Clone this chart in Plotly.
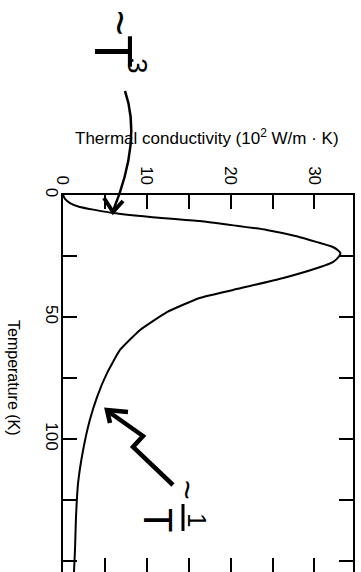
import plotly.graph_objects as go

# Data: temperature (K) vs thermal conductivity (10^2 W/m.K)
temperature = [0, 1.6, 3.3, 4.9, 6.1, 7.4, 9.0, 10.7, 14.3, 17.0, 19.3, 21.3, 22.6, 23.8, 25.3,
               27.5, 29.5, 34.0, 38.9, 42.2, 48.0, 55.3, 63.5, 73.0, 82.8, 92.2, 104.5,
               118.0, 132.0, 145.5, 154.5]
conductivity = [0, 0.24, 0.84, 2.0, 3.8, 6.0, 10.4, 16.3, 24.3, 28.0, 30.3, 32.2, 32.8, 33.1, 32.9,
                32.2, 30.7, 26.3, 20.3, 16.3, 12.4, 9.2, 6.8, 5.25, 4.06, 3.2, 2.4,
                1.8, 1.55, 1.43, 1.31]

k_tickvals = [0, 10, 20, 30]
k_ticktext = ["0", "10", "20", "30"]
t_tickvals = [0, 50, 100, 150]
t_ticktext = ["0", "50", "100", "150"]
k_minor_step = 5
t_minor_step = 25

W, H = 361, 572
L, R, TOP, B = 63, 353, 195, 572
FONT = "Liberation Sans, Arial, sans-serif"


def px(x):
    return (x - L) / (R - L)


def py(y):
    return (B - y) / (B - TOP)


fig = go.Figure()
fig.add_trace(go.Scatter(x=conductivity, y=temperature, mode="lines",
                         line=dict(color="black", width=2, shape="spline", smoothing=0.4),
                         showlegend=False, hoverinfo="skip"))
fig.add_trace(go.Scatter(x=[None], y=[None], xaxis="x2", showlegend=False, hoverinfo="skip"))

tick_style = dict(ticks="inside", ticklen=14, tickwidth=1.5, tickcolor="black")
axis_common = dict(showgrid=False, zeroline=False, automargin=False,
                   tickfont=dict(family=FONT, size=17, color="black"), **tick_style)

fig.update_layout(
    template="none",
    width=W, height=H,
    margin=dict(l=L, r=W - R, t=TOP, b=H - B, pad=0, autoexpand=False),
    paper_bgcolor="white", plot_bgcolor="white",
    xaxis=dict(range=[0, 34.6], side="top", tickvals=k_tickvals, ticktext=k_ticktext,
               tickangle=90, showline=True, linecolor="black", linewidth=2,
               mirror=False, ticklabelstandoff=2,
               minor=dict(dtick=k_minor_step, showgrid=False, **tick_style), **axis_common),
    xaxis2=dict(range=[0, 34.6], side="bottom", overlaying="x", anchor="y",
                tickvals=k_tickvals, showticklabels=False, showline=False,
                minor=dict(dtick=k_minor_step, showgrid=False, **tick_style), **axis_common),
    yaxis=dict(range=[154.5, 0], tickvals=t_tickvals, ticktext=t_ticktext,
               tickangle=90, showline=True, linecolor="black", linewidth=2,
               mirror="ticks", ticklabelstandoff=-5,
               minor=dict(dtick=t_minor_step, showgrid=False, **tick_style), **axis_common),
)

ann = []
ann.append(dict(text="Thermal conductivity (10<sup>2</sup> W/m · K)", x=px(207), y=py(137),
                xref="paper", yref="paper", showarrow=False, xanchor="center", yanchor="middle",
                font=dict(family=FONT, size=17, color="black")))
ann.append(dict(text="Temperature (K)", x=px(14), y=py(378), xref="paper", yref="paper",
                showarrow=False, textangle=90, xanchor="center", yanchor="middle",
                font=dict(family=FONT, size=16, color="black")))

hand = dict(family=FONT, color="black")


def note(text, x, y, size):
    return dict(text=text, x=px(x), y=py(y), xref="paper", yref="paper", showarrow=False,
                textangle=90, xanchor="center", yanchor="middle", font=dict(size=size, **hand))


# ~T^3 note
ann.append(note("~", 120, 23, 44))
ann.append(note("T", 114, 51, 54))
ann.append(note("3", 137, 66, 28))
# ~1/T note
ann.append(note("~", 188, 490, 34))
ann.append(note("1", 197, 520, 26))
ann.append(note("T", 158, 520, 40))
fig.update_layout(annotations=ann)

shapes = []
# fraction bar of 1/T
shapes.append(dict(type="line", xref="paper", yref="paper", x0=px(183), y0=py(504),
                   x1=px(183), y1=py(531), line=dict(color="black", width=3)))
# curved arrow toward low-T part
path1 = (f"M {px(125)},{py(91)} Q {px(142)},{py(140)} {px(113)},{py(211)}")
shapes.append(dict(type="path", xref="paper", yref="paper", path=path1,
                   line=dict(color="black", width=2.5)))
shapes.append(dict(type="path", xref="paper", yref="paper",
                   path=f"M {px(104)},{py(198)} L {px(113)},{py(212)} L {px(123)},{py(201)}",
                   line=dict(color="black", width=4)))
# zigzag arrow toward high-T part
path2 = (f"M {px(173)},{py(485)} L {px(133)},{py(447)} L {px(143)},{py(436)} "
         f"L {px(109)},{py(412)}")
shapes.append(dict(type="path", xref="paper", yref="paper", path=path2,
                   line=dict(color="black", width=4.5)))
shapes.append(dict(type="path", xref="paper", yref="paper",
                   path=f"M {px(128)},{py(412)} L {px(107)},{py(410)} L {px(110)},{py(423)}",
                   line=dict(color="black", width=4.5)))
fig.update_layout(shapes=shapes)

fig.write_html("out.html", config={"displayModeBar": False},
               post_script="document.body.style.margin='0';document.body.style.overflow='hidden';")
